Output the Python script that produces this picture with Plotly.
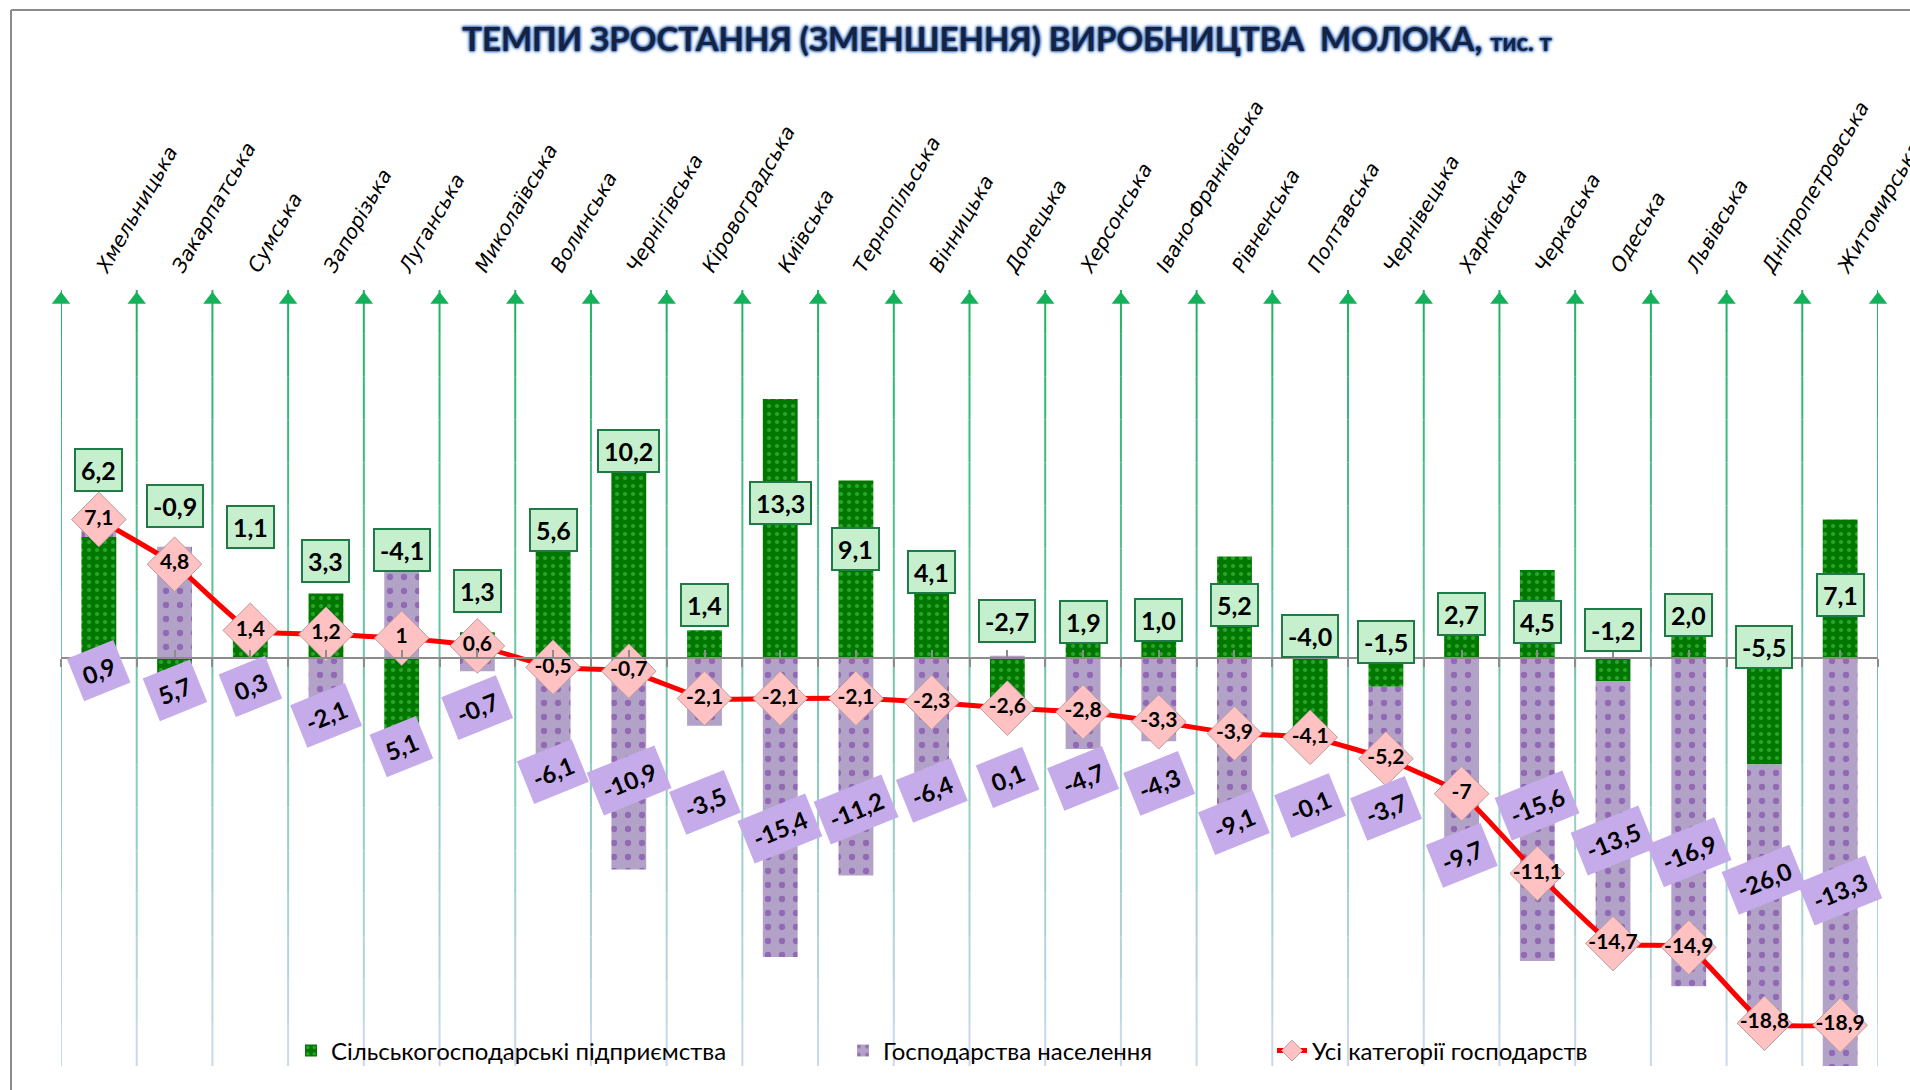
import plotly.graph_objects as go

# ---------------- data ----------------
regions = ["Хмельницька", "Закарпатська", "Сумська", "Запорізька", "Луганська",
           "Миколаївська", "Волинська", "Чернігівська", "Кіровоградська", "Київська",
           "Тернопільська", "Вінницька", "Донецька", "Херсонська", "Івано-Франківська",
           "Рівненська", "Полтавська", "Чернівецька", "Харківська", "Черкаська",
           "Одеська", "Львівська", "Дніпропетровська", "Житомирська"]

agri = [6.2, -0.9, 1.1, 3.3, -4.1, 1.3, 5.6, 10.2, 1.4, 13.3, 9.1, 4.1,
        -2.7, 1.9, 1.0, 5.2, -4.0, -1.5, 2.7, 4.5, -1.2, 2.0, -5.5, 7.1]
house = [0.9, 5.7, 0.3, -2.1, 5.1, -0.7, -6.1, -10.9, -3.5, -15.4, -11.2, -6.4,
         0.1, -4.7, -4.3, -9.1, -0.1, -3.7, -9.7, -15.6, -13.5, -16.9, -13.3, -26.0]
total = [7.1, 4.8, 1.4, 1.2, 1.0, 0.6, -0.5, -0.7, -2.1, -2.1, -2.1, -2.3,
         -2.6, -2.8, -3.3, -3.9, -4.1, -5.2, -7.0, -11.1, -14.7, -14.9, -18.8, -18.9]

# label texts as printed on the chart
agri_labels = ["6,2", "-0,9", "1,1", "3,3", "-4,1", "1,3", "5,6", "10,2", "1,4", "13,3", "9,1", "4,1",
               "-2,7", "1,9", "1,0", "5,2", "-4,0", "-1,5", "2,7", "4,5", "-1,2", "2,0", "-5,5", "7,1"]
house_labels = ["0,9", "5,7", "0,3", "-2,1", "5,1", "-0,7", "-6,1", "-10,9", "-3,5", "-15,4", "-11,2", "-6,4",
                "0,1", "-4,7", "-4,3", "-9,1", "-0,1", "-3,7", "-9,7", "-15,6", "-13,5", "-16,9", "-26,0", "-13,3"]
total_labels = ["7,1", "4,8", "1,4", "1,2", "1", "0,6", "-0,5", "-0,7", "-2,1", "-2,1", "-2,1", "-2,3",
                "-2,6", "-2,8", "-3,3", "-3,9", "-4,1", "-5,2", "-7", "-11,1", "-14,7", "-14,9", "-18,8", "-18,9"]

# ---------------- layout helpers (label placement, in value units) ----------------
agri_label_pos = [9.65, 7.77, 6.70, 4.95, 5.51, 3.42, 6.55, 10.6, 2.69, 7.96, 5.58, 4.39,
                  1.88, 1.82, 1.94, 2.69, 1.13, 0.81, 2.26, 1.82, 1.44, 2.19, 0.56, 3.20]
house_label_pos = [-0.64, -1.7, -1.5, -2.96, -4.59, -2.55, -5.87, -6.3, -7.45, -8.8, -7.8, -6.85,
                   -6.15, -6.2, -6.45, -8.5, -7.6, -7.75, -10.2, -7.6, -9.4, -10.0, -11.4, -12.0]

W, H = 1910, 1090
ML, MR, MT, MB = 61, 32, 290, 24
Y_RANGE = [-21.0, 18.9]
n = len(regions)
xs = list(range(n))
X_RANGE = [-0.5, n - 0.5]
bounds = [k - 0.5 for k in range(n + 1)]

fig = go.Figure()

fig.add_bar(x=xs, y=agri, name="Сільськогосподарські підприємства", width=0.46,
            marker=dict(color="#007800", line=dict(width=0),
                        pattern=dict(shape=".", fillmode="overlay", fgcolor="#52d452",
                                     size=8, solidity=0.22)),
            hoverinfo="skip", legend="legend")
fig.add_bar(x=xs, y=house, name="Господарства населення", width=0.46,
            marker=dict(color="#b2a2c8", line=dict(width=0),
                        pattern=dict(shape=".", fillmode="overlay", fgcolor="#7030a0",
                                     size=14, solidity=0.16)),
            hoverinfo="skip", legend="legend2")

fig.add_scatter(x=xs, y=total, mode="lines+markers", name="Усі категорії господарств",
                line=dict(color="#ff0000", width=5, shape="spline", smoothing=0.4),
                marker=dict(symbol="diamond", size=42, color="#ffc1c1",
                            line=dict(color="#b79c9c", width=1)),
                hoverinfo="skip", legend="legend3")
fig.add_scatter(x=xs, y=total, mode="text", text=total_labels, textposition="middle center",
                textfont=dict(family="Lato", size=21, color="black", weight="bold"),
                showlegend=False, hoverinfo="skip")

# arrow heads on the vertical grid lines
fig.add_scatter(x=bounds, y=[Y_RANGE[1] - 0.5] * len(bounds), mode="markers",
                marker=dict(symbol="triangle-up", size=16, color="#13b25a"),
                cliponaxis=False, showlegend=False, hoverinfo="skip")

# helper trace for the zero-level axis
fig.add_scatter(x=[0], y=[0], xaxis="x2", mode="markers", marker=dict(opacity=0),
                showlegend=False, hoverinfo="skip")

# ---------------- gradient vertical grid lines ----------------
def lerp(c1, c2, t):
    return "rgb(%d,%d,%d)" % tuple(round(a + (b - a) * t) for a, b in zip(c1, c2))

top_c, bot_c = (0x1c, 0xb2, 0x62), (0xcc, 0xda, 0xf0)
NSEG = 18
span = Y_RANGE[1] - Y_RANGE[0]
shapes = []
for b in bounds:
    for j in range(NSEG):
        y0 = Y_RANGE[1] - span * j / NSEG
        y1 = Y_RANGE[1] - span * (j + 1) / NSEG
        shapes.append(dict(type="line", xref="x", yref="y", x0=b, x1=b, y0=y0, y1=y1,
                           line=dict(color=lerp(top_c, bot_c, (j + 0.5) / NSEG), width=2),
                           layer="below"))

# chart border (left and top)
pw, ph = W - ML - MR, H - MT - MB
px = lambda v: (v - ML) / pw
py = lambda v: (H - MB - v) / ph
shapes.append(dict(type="line", xref="paper", yref="paper", x0=px(11), x1=px(11), y0=py(10), y1=py(H),
                   line=dict(color="#8c8c8c", width=2)))
shapes.append(dict(type="line", xref="paper", yref="paper", x0=px(11), x1=px(W), y0=py(10), y1=py(10),
                   line=dict(color="#8c8c8c", width=2)))

# ---------------- annotations ----------------
annotations = []
for i in xs:
    annotations.append(dict(x=i, y=agri_label_pos[i], xref="x", yref="y", text=agri_labels[i],
                            showarrow=False, bgcolor="#c6efce", bordercolor="#1e7b45",
                            borderwidth=2, borderpad=5,
                            font=dict(family="Lato", size=25, color="black", weight="bold")))
for i in xs:
    annotations.append(dict(x=i, y=house_label_pos[i], xref="x", yref="y", text=house_labels[i],
                            showarrow=False, bgcolor="#c6abeb", borderpad=8, textangle=-22,
                            font=dict(family="Lato", size=24, color="black", weight="bold")))

zero_frac = (0 - Y_RANGE[0]) / span

fig.update_layout(
    width=W, height=H, margin=dict(l=ML, r=MR, t=MT, b=MB, autoexpand=False),
    paper_bgcolor="white", plot_bgcolor="white",
    barmode="relative", bargap=0.54,
    title=dict(text="ТЕМПИ ЗРОСТАННЯ (ЗМЕНШЕННЯ) ВИРОБНИЦТВА  МОЛОКА, <span style='font-size:24px'>тис. т</span>",
               xref="container", yref="container", x=1007 / W, y=1 - 39 / H,
               xanchor="center", yanchor="middle",
               font=dict(family="Lato", size=33, color="#16223f", weight="bold",
                         shadow="0 0 2px #3f74c0, 0 0 3px #3f74c0, 0 0 3px #3f74c0, 0 0 4px #6a98d8")),
    xaxis=dict(range=X_RANGE, side="top", tickmode="array", tickvals=xs, ticktext=regions,
               tickangle=-60, ticks="", showgrid=False, zeroline=False, showline=False,
               ticklabelstandoff=6, ticklabeloverflow="allow", automargin=False,
               tickfont=dict(family="DejaVu Sans", size=20, color="black", style="italic")),
    xaxis2=dict(range=X_RANGE, overlaying="x", anchor="free", position=zero_frac, side="bottom",
                showline=True, linecolor="#8c8c8c", linewidth=2, automargin=False,
                ticks="outside", ticklen=8, tickwidth=2, tickcolor="#8c8c8c",
                tick0=-0.5, dtick=1, showticklabels=False, showgrid=False, zeroline=False,
                minor=dict(ticks="inside", ticklen=7, tickwidth=2, tickcolor="#8c8c8c",
                           tick0=0, dtick=1, showgrid=False),
                layer="above traces"),
    yaxis=dict(range=Y_RANGE, visible=False, showgrid=False, zeroline=False, automargin=False),
    shapes=shapes, annotations=annotations,
    legend=dict(x=px(291), y=py(1051), xanchor="left", yanchor="middle", orientation="h",
                bgcolor="rgba(0,0,0,0)", font=dict(family="Lato", size=24, color="black")),
    legend2=dict(x=px(843), y=py(1051), xanchor="left", yanchor="middle", orientation="h",
                 bgcolor="rgba(0,0,0,0)", font=dict(family="Lato", size=24, color="black")),
    legend3=dict(x=px(1272), y=py(1051), xanchor="left", yanchor="middle", orientation="h",
                 bgcolor="rgba(0,0,0,0)", font=dict(family="Lato", size=24, color="black")),
)

fig.write_html("out.html", config={"displayModeBar": False},
               post_script="document.body.style.margin='0';document.body.style.overflow='hidden';")
